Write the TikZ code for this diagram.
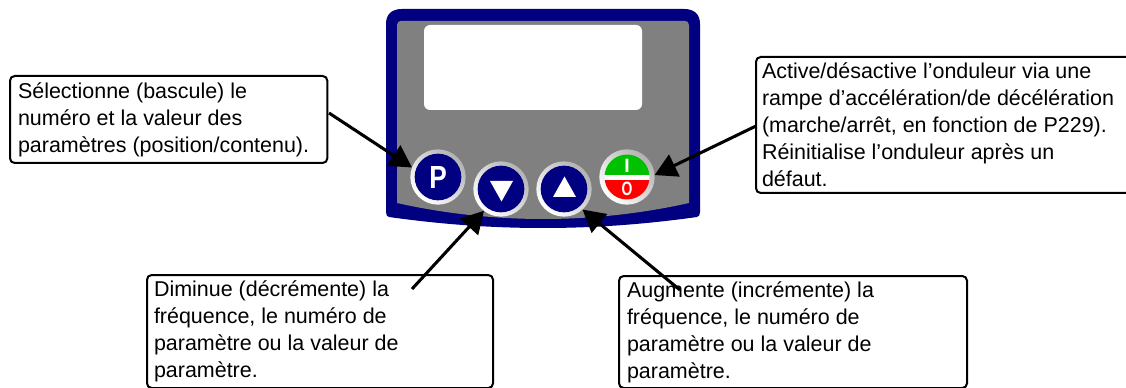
\documentclass[tikz,border=0pt]{standalone}
\usepackage{fontspec}
\setmainfont{Liberation Sans}
\usetikzlibrary{arrows.meta}
\definecolor{navy}{RGB}{0,0,128}
\definecolor{panelgray}{RGB}{128,128,128}
\definecolor{iogreen}{RGB}{0,192,0}
\tikzset{
  x=0.75pt,y=-0.75pt,
  note/.style={draw=black,line width=1.5pt,rounded corners=3.5pt,fill=white,inner sep=0pt,outer sep=0pt,anchor=north west},
  notetext/.style={anchor=north west,inner sep=0pt,outer sep=0pt,align=left,font=\fontsize{16.1pt}{20.2pt}\selectfont},
  ring/.style={circle,minimum size=41.5pt,inner sep=0pt,outer sep=0pt,shading=axis,left color=white,middle color=white,right color=black!30,shading angle=135},
  keyface/.style={circle,fill=navy,minimum size=35pt,inner sep=0pt,text=white},
  arr/.style={line width=2.3pt,-{Triangle[length=16.5pt,width=18pt]}},
}
\begin{document}
\begin{tikzpicture}
\useasboundingbox (0,0) rectangle (1126,388);
\clip (0,0) rectangle (1126,388);
% panel
\fill[navy] (386,24) .. controls (386,14) and (392,9) .. (402,9) -- (684,9) .. controls (694,9) and (700,14) .. (700,24) -- (700,212) .. controls (700,215) and (699,216.5) .. (697,217) .. controls (640,225) and (590,228) .. (543,228) .. controls (496,228) and (446,225) .. (389,217) .. controls (387,216.5) and (386,215) .. (386,212) -- cycle;
\fill[panelgray] (397,25) .. controls (397,22) and (399,21) .. (401,21) -- (685,21) .. controls (687,21) and (689,22) .. (689,25) -- (689,203) .. controls (640,214) and (590,219) .. (543,219) .. controls (496,219) and (446,214) .. (397,203) -- cycle;
\fill[white,rounded corners=4.5pt] (424,25) rectangle (642,110);
% keys
\node[ring] (keyP) at (438,177) {};
\node[keyface,font=\fontsize{24pt}{24pt}\selectfont\bfseries] (faceP) at (438,177) {\scalebox{0.82}[1]{P}};
\node[ring] (keyD) at (501,189) {};
\node[keyface] (faceD) at (501,189) {};
\fill[white] (490,181) -- (513,181) -- (501.5,201.5) -- cycle;
\node[ring] (keyU) at (564,189) {};
\node[keyface] (faceU) at (564,189) {};
\fill[white] (553,197) -- (576,197) -- (564.5,176.5) -- cycle;
\node[ring] (keyIO) at (627,177) {};
\begin{scope}
\clip (627,177) circle (22.5);
\fill[iogreen] (600,150) rectangle (654,175);
\fill[white] (600,175) rectangle (654,180);
\fill[red] (600,180) rectangle (654,204);
\end{scope}
\node[text=white,font=\fontsize{14.5pt}{14.5pt}\selectfont\bfseries] (labI) at (627,166) {I};
\node[text=white,font=\fontsize{14.5pt}{14.5pt}\selectfont\bfseries] (labO) at (627,188.5) {\scalebox{0.72}[1]{O}};
% boxes
\node[note,minimum width=238pt,minimum height=65.25pt] (boxP) at (10,76) {};
\node[note,minimum width=259.5pt,minimum height=84.75pt] (boxD) at (147,275) {};
\node[note,minimum width=261pt,minimum height=84pt] (boxU) at (619,276) {};
\node[note,minimum width=284pt,minimum height=102pt] (boxIO) at (756,57) {};
\coordinate (startP) at (329,113);
\coordinate (startD) at (412,289);
\coordinate (startU) at (680,290);
\coordinate (startIO) at (756,126);
\node[notetext] (txtP) at (18,82.5) {Sélectionne (bascule) le\\numéro et la valeur des\\paramètres (position/contenu).};
\node[notetext] (txtD) at (154,281) {Diminue (décrémente) la\\fréquence, le numéro de\\paramètre ou la valeur de\\paramètre.};
\node[notetext] (txtU) at (627,282) {Augmente (incrémente) la\\fréquence, le numéro de\\paramètre ou la valeur de\\paramètre.};
\node[notetext] (txtIO) at (762,63) {Active/désactive l’onduleur via une\\rampe d’accélération/de décélération\\(marche/arrêt, en fonction de P229).\\Réinitialise l’onduleur après un\\défaut.};
% arrows
\draw[arr] (startP) -- (keyP.160);
\draw[arr] (startD) -- (keyD.232);
\draw[arr] (startU) -- (keyU.-48);
\draw[arr] (startIO) -- (keyIO.4);
\end{tikzpicture}
\end{document}
